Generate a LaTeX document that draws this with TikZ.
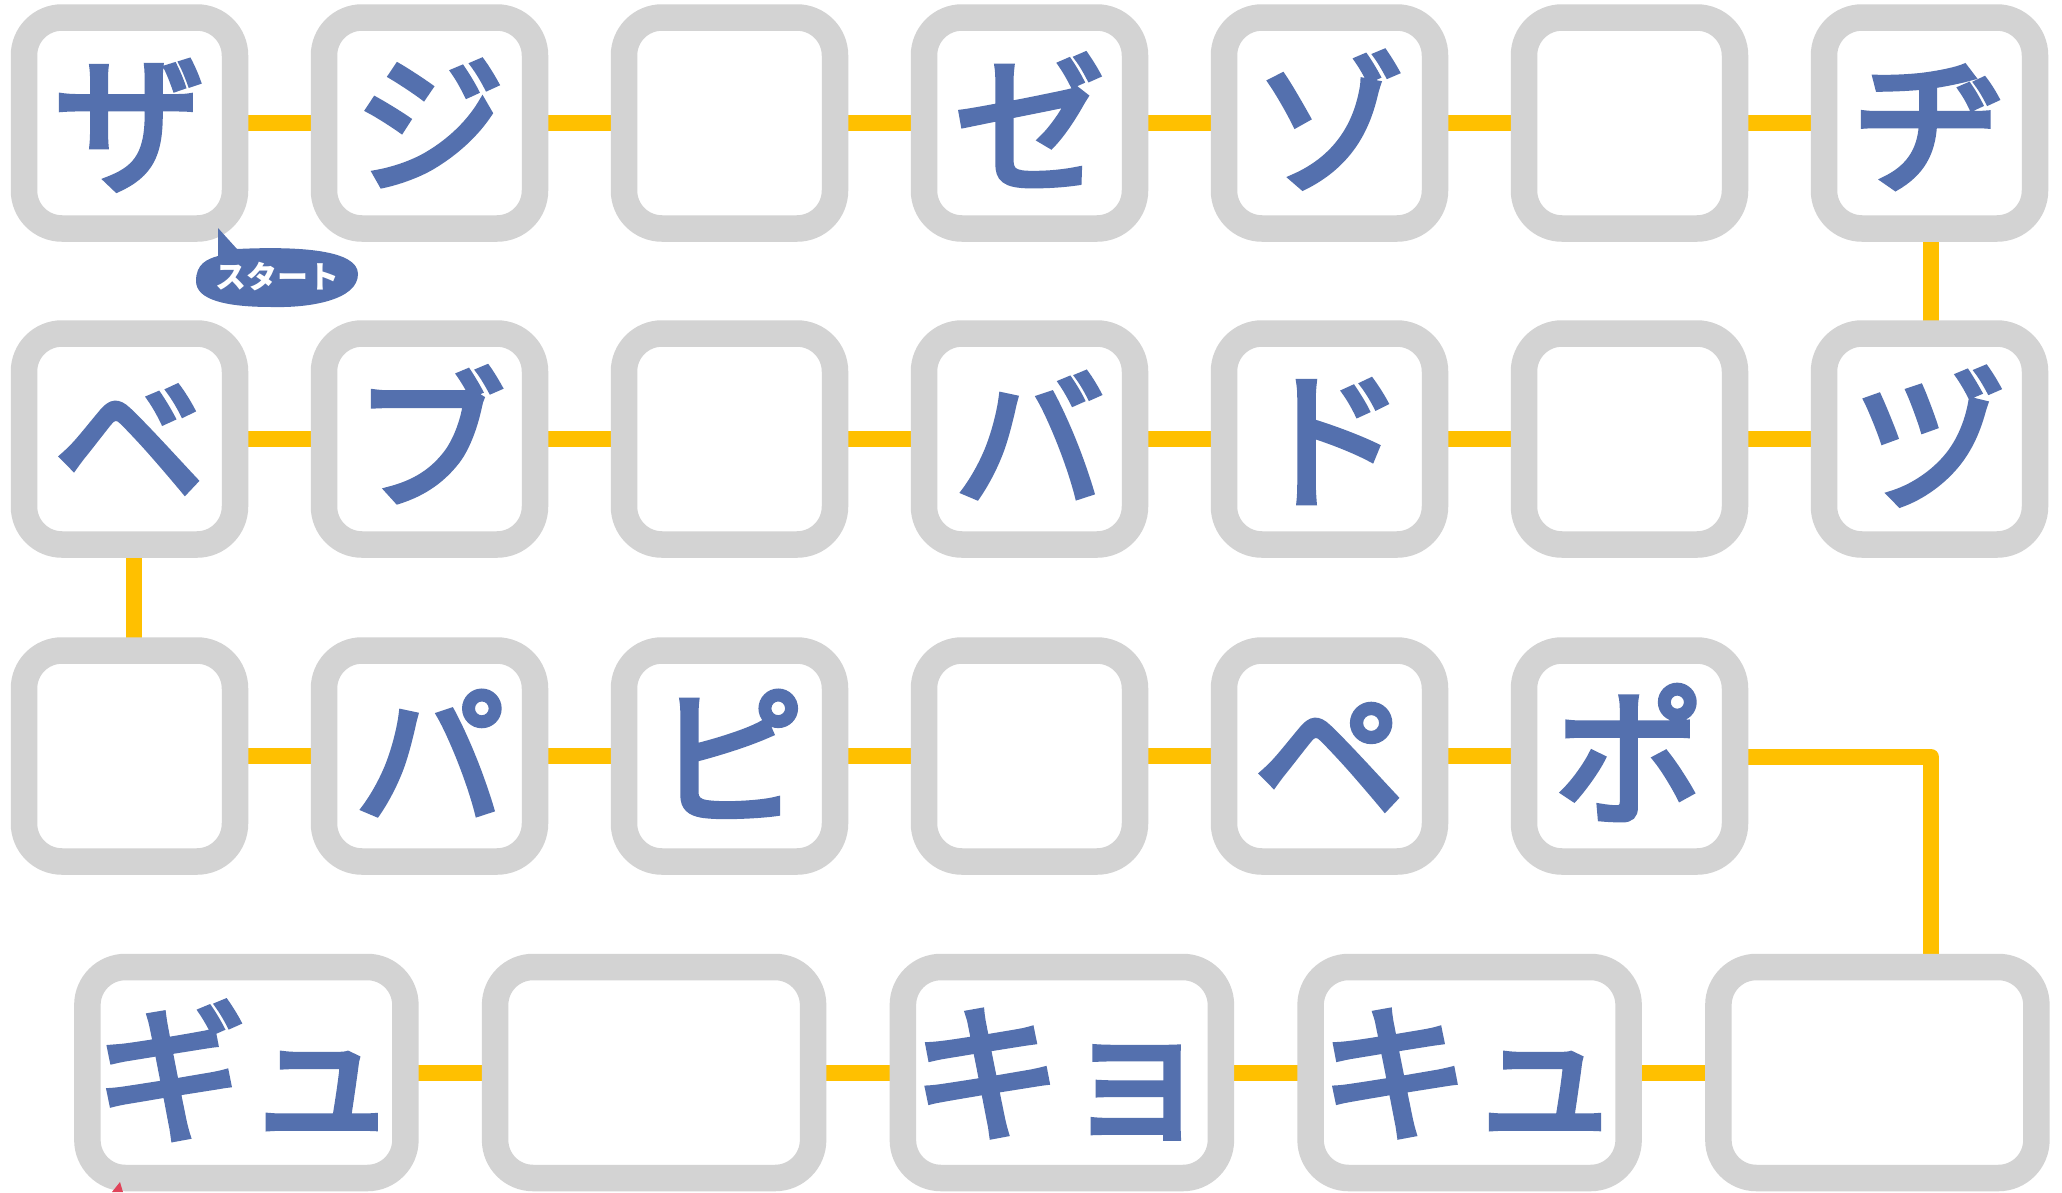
\documentclass[tikz,border=0pt]{standalone}
\usepackage{fontspec}
\newfontfamily\cjk{Noto Sans CJK JP}
\newfontfamily\cjkm[FakeBold=4]{Noto Sans CJK JP}
\usetikzlibrary{backgrounds,calc}
\definecolor{boxgray}{HTML}{D3D3D3}
\definecolor{kblue}{HTML}{5470AE}
\definecolor{lineyellow}{HTML}{FFC000}
\definecolor{goalred}{HTML}{E0445A}
\begin{document}
\begin{tikzpicture}[x=1pt,y=-1pt,
  cell/.style={draw=boxgray,line width=26.5pt,fill=white,rounded corners=38pt,
    minimum width=211pt,minimum height=211pt,inner sep=0pt,
    font=\cjkm\fontsize{150}{150}\selectfont,text=kblue,text height=132pt,text depth=18pt},
  wcell/.style={cell,minimum width=318pt},
  conn/.style={draw=lineyellow,line width=16pt,line join=round}]
\useasboundingbox (0,0) rectangle (2062,1192);
% row 1
\node[cell] (c11) at (129.5,123) {ザ};
\node[cell] (c12) at (429.5,123) {ジ};
\node[cell] (c13) at (729.5,123) {};
\node[cell] (c14) at (1029.5,123) {ゼ};
\node[cell] (c15) at (1329.5,123) {ゾ};
\node[cell] (c16) at (1629.5,123) {};
\node[cell] (c17) at (1929.5,123) {ヂ};
% row 2
\node[cell] (c21) at (129.5,439) {ベ};
\node[cell] (c22) at (429.5,439) {ブ};
\node[cell] (c23) at (729.5,439) {};
\node[cell] (c24) at (1029.5,439) {バ};
\node[cell] (c25) at (1329.5,439) {ド};
\node[cell] (c26) at (1629.5,439) {};
\node[cell] (c27) at (1929.5,439) {ヅ};
% row 3
\node[cell] (c31) at (129.5,756) {};
\node[cell] (c32) at (429.5,756) {パ};
\node[cell] (c33) at (729.5,756) {ピ};
\node[cell] (c34) at (1029.5,756) {};
\node[cell] (c35) at (1329.5,756) {ペ};
\node[cell] (c36) at (1629.5,756) {ポ};
% row 4
\node[wcell] (c41) at (246.4,1072.5) {ギュ};
\node[wcell] (c42) at (654.1,1072.5) {};
\node[wcell] (c43) at (1061.9,1072.5) {キョ};
\node[wcell] (c44) at (1469.6,1072.5) {キュ};
\node[wcell] (c45) at (1877.4,1072.5) {};
\begin{pgfonlayer}{background}
  \foreach \a/\b in {1/2,2/3,3/4,4/5,5/6,6/7} {
    \draw[conn] (c1\a.center) -- (c1\b.center);
    \draw[conn] (c2\a.center) -- (c2\b.center);
  }
  \foreach \a/\b in {1/2,2/3,3/4,4/5,5/6} {
    \draw[conn] (c3\a.center) -- (c3\b.center);
  }
  \foreach \a/\b in {1/2,2/3,3/4,4/5} {
    \draw[conn] (c4\a.center) -- (c4\b.center);
  }
  \draw[conn] ($(c17.center)+(1.5,0)$) -- ($(c27.center)+(1.5,0)$);
  \draw[conn] ($(c21.center)+(4.5,0)$) -- ($(c31.center)+(4.5,0)$);
  \draw[conn] ($(c36.center)+(0,1)$) -| ($(c45.center)+(53.6,0)$);
\end{pgfonlayer}
% start bubble
\fill[kblue] (218,228) -- (237,249) .. controls (300,246) and (358,250) .. (358,274)
  .. controls (358,300) and (310,308) .. (272,307)
  .. controls (226,307) and (196,300) .. (196,281)
  .. controls (196,264) and (207,259) .. (218,256) -- cycle;
\node[text=white,font=\cjk\bfseries\fontsize{31}{31}\selectfont,inner sep=0pt] (start) at (277,277) {スタート};
% goal marker tip (cut off)
\fill[goalred] (120,1182) -- (112,1192) -- (123,1192) -- cycle;
\end{tikzpicture}
\end{document}
